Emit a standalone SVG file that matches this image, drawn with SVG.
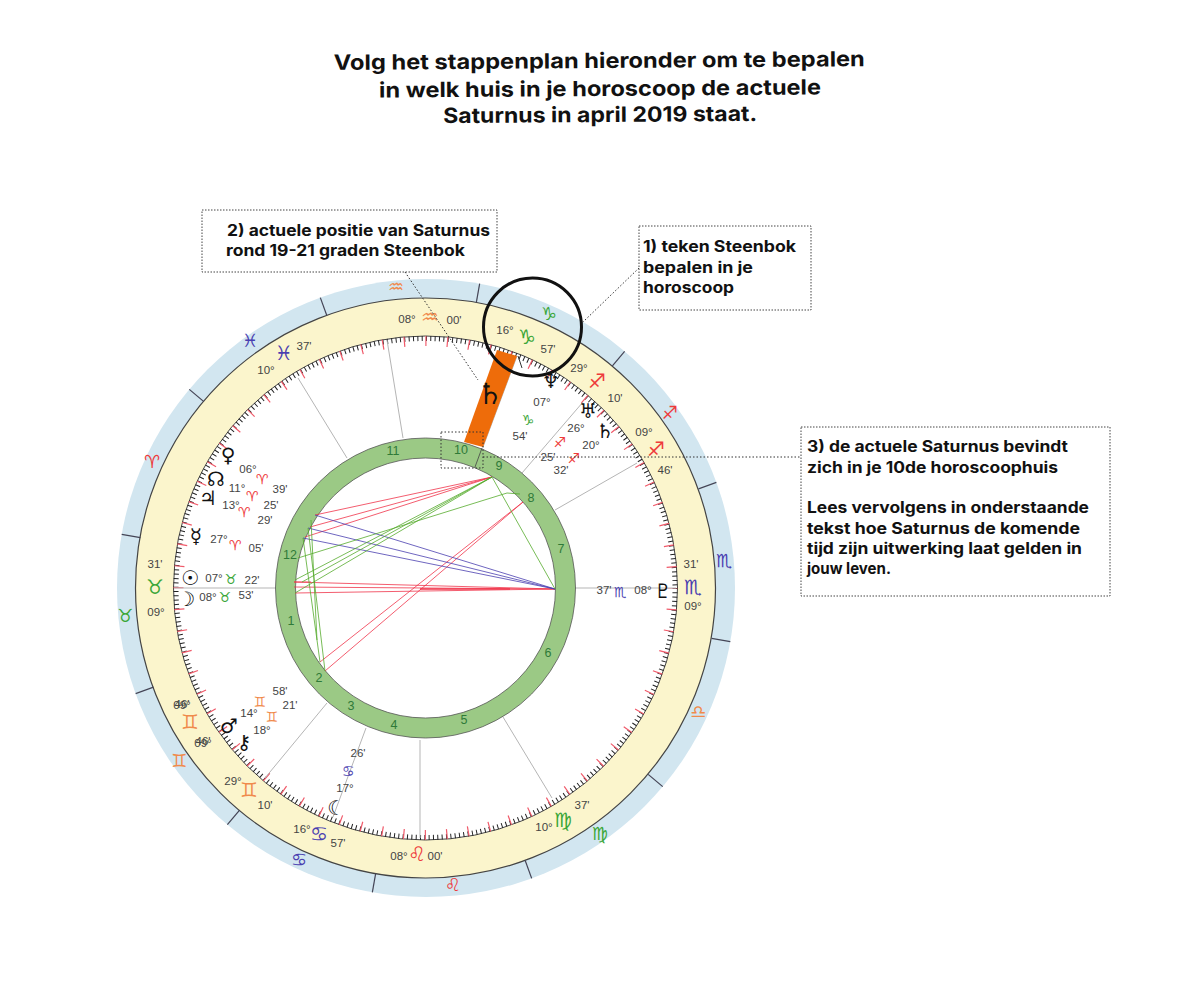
<svg xmlns="http://www.w3.org/2000/svg" xmlns:xlink="http://www.w3.org/1999/xlink" width="1200" height="1000" viewBox="0 0 1200 1000">
<style>
text{font-family:"Liberation Sans","Open Sans",sans-serif}
.h text{font-family:Inter,"Open Sans",sans-serif;font-weight:700;fill:#111}
.t text{font-size:21px}
.b text{font-size:15.5px}
.n,.g,.p,.hn{text-anchor:middle;dominant-baseline:central}
.n{font-size:11.5px;fill:#444}
.g{font-family:"DejaVu Sans",sans-serif;font-size:14px}
.y{font-size:20px}
.o{font-size:18px}
.p{font-family:"DejaVu Sans",sans-serif;font-size:20px;fill:#111}
.hn{font-size:12.5px;fill:#2f7a38}
.fi{fill:#ee3b3b}.ea{fill:#3aa637}.ai{fill:#f08a4b}.wa{fill:#4a3fb0}
.box{fill:#fff;stroke:#444;stroke-width:1;stroke-dasharray:1.5 1.5}
.dot{fill:none;stroke:#333;stroke-width:1;stroke-dasharray:1.5 2}
.cusp{stroke:#b5b5b5;stroke-width:1;fill:none}
.sep{stroke:#445;stroke-width:1.2}
.red{stroke:#f0344a;stroke-width:.8;fill:none}
.blu{stroke:#4a3fb0;stroke-width:.8;fill:none}
.grn{stroke:#55ab2c;stroke-width:.8;fill:none}
</style>
<defs><line id="s" x1="-309" y1="0" x2="-290" y2="0"/></defs>

<g id="title" class="h t" transform="rotate(-0.4 600 90)">
<text x="334" y="68" textLength="531" lengthAdjust="spacingAndGlyphs">Volg het stappenplan hieronder om te bepalen</text>
<text x="379" y="96" textLength="442" lengthAdjust="spacingAndGlyphs">in welk huis in je horoscoop de actuele</text>
<text x="443" y="122" textLength="314" lengthAdjust="spacingAndGlyphs">Saturnus in april 2019 staat.</text>
</g>

<g id="rings">
<circle cx="426" cy="588" r="309" fill="#d2e6f0"/>
<circle cx="425.5" cy="588" r="290" fill="#fbf5cc" stroke="#444" stroke-width="1.2"/>
<circle cx="425.5" cy="588" r="252" fill="#fff" stroke="#444" stroke-width="1"/>
<circle cx="425.5" cy="588" r="249.5" fill="none" stroke="#222" stroke-width="5" stroke-dasharray="1 3.3547"/>
<circle cx="425.5" cy="588" r="247" fill="none" stroke="#f05a6a" stroke-width="10" stroke-dasharray="1.2 20.354" stroke-dashoffset=".6"/>
<g class="sep" transform="translate(426 588)">
<use xlink:href="#s" href="#s" transform="rotate(10)"/><use xlink:href="#s" href="#s" transform="rotate(40)"/><use xlink:href="#s" href="#s" transform="rotate(70)"/><use xlink:href="#s" href="#s" transform="rotate(100)"/><use xlink:href="#s" href="#s" transform="rotate(130)"/><use xlink:href="#s" href="#s" transform="rotate(160)"/><use xlink:href="#s" href="#s" transform="rotate(190)"/><use xlink:href="#s" href="#s" transform="rotate(220)"/><use xlink:href="#s" href="#s" transform="rotate(250)"/><use xlink:href="#s" href="#s" transform="rotate(280)"/><use xlink:href="#s" href="#s" transform="rotate(310)"/><use xlink:href="#s" href="#s" transform="rotate(340)"/>
</g>
</g>

<g id="cusps">
<path class="cusp" d="M174 588H276M575 588H676M298 378L347 458M387 340L403 438M265 778L327 703M333 817L366 728M420 740V838M552 798L503 717M583 402L522 473M637 463L555 510M517 356L483 447"/>
</g>

<g id="house-ring">
<circle cx="425.5" cy="588" r="140" fill="none" stroke="#9bc985" stroke-width="20"/>
<circle cx="425.5" cy="588" r="150" fill="none" stroke="#555" stroke-width=".8"/>
<circle cx="425.5" cy="588" r="130" fill="none" stroke="#555" stroke-width=".8"/>
<path d="M482 448L475 467" fill="none" stroke="#444" stroke-width=".8"/>
</g>

<g id="aspects">
<path class="red" d="M492 477L315 515M492 477L310 527M492 477L305 537M294 582L555 589M294 587L555 589M295 593L555 589M294 582H311M523 502L320 662M523 502L325 671"/>
<path class="red" style="stroke-width:1.6" d="M420 589L510 589"/>
<path class="blu" d="M555 589L315 515M555 589L308 528M555 589L303 538"/>
<path class="grn" d="M492 477L295 580M492 477L302 582M492 477L295 593M298 558L507 493L520 494M492 477L555 589M303 538L320 662M308 528L325 671M311 520L317 640"/>
</g>

<g id="saturnus-band">
<polygon points="497,350 517,356 483,447 464,442" fill="#ee6c0a"/>
<text class="p" x="490" y="394" style="font-size:29px;font-weight:400">♄</text>
<path d="M518 356L522 368" stroke="#333" fill="none"/>
</g>

<g id="outer-signs">
<text class="g o fi" x="152" y="461">♈</text>
<text class="g o ea" x="125" y="615">♉</text>
<text class="g o wa" x="250" y="340">♓</text>
<text class="g o ai" x="396" y="286">♒</text>
<text class="g o ea" x="549" y="313">♑</text>
<text class="g o fi" x="670" y="412">♐</text>
<text class="g o wa" x="724" y="560">♏</text>
<text class="g o ai" x="698" y="711">♎</text>
<text class="g o ea" x="600" y="833">♍</text>
<text class="g o fi" x="453" y="884">♌</text>
<text class="g o wa" x="299" y="859">♋</text>
<text class="g o ai" x="179" y="760">♊</text>
</g>

<g id="cusp-labels">
<text class="n" x="407" y="319">08°</text><text class="g y ai" x="430" y="317">♒</text><text class="n" x="454" y="320">00'</text>
<text class="n" x="505" y="330">16°</text><text class="g y ea" x="527" y="337">♑</text><text class="n" x="548" y="349">57'</text>
<text class="n" x="579" y="368">29°</text><text class="g y fi" x="597" y="381">♐</text><text class="n" x="615" y="398">10'</text>
<text class="n" x="644" y="432">09°</text><text class="g y fi" x="656" y="449">♐</text><text class="n" x="665" y="470">46'</text>
<text class="n" x="691" y="564">31'</text><text class="g y wa" x="693" y="587">♏</text><text class="n" x="693" y="606">09°</text>
<text class="n" x="582" y="805">37'</text><text class="g y ea" x="563" y="820">♍</text><text class="n" x="544" y="827">10°</text>
<text class="n" x="399" y="856">08°</text><text class="g y fi" x="417" y="854">♌</text><text class="n" x="435" y="856">00'</text>
<text class="n" x="302" y="829">16°</text><text class="g y wa" x="319" y="834">♋</text><text class="n" x="338" y="843">57'</text>
<text class="n" x="233" y="781">29°</text><text class="g y ai" x="249" y="790">♊</text><text class="n" x="265" y="805">10'</text>
<text class="n" x="182" y="704">46'</text><text class="n" x="182" y="705">09°</text><text class="g y ai" x="190" y="722">♊</text><text class="n" x="203" y="741">46'</text><text class="n" x="203" y="743">09°</text>
<text class="n" x="155" y="564">31'</text><text class="g y ea" x="155" y="587">♉</text><text class="n" x="156" y="612">09°</text>
<text class="n" x="304" y="346">37'</text><text class="g y wa" x="284" y="353">♓</text><text class="n" x="266" y="370">10°</text>
</g>

<g id="planets">
<g id="venus"><text class="p" x="228" y="455">♀</text><text class="n" x="248" y="469">06°</text><text class="g fi" x="262" y="479">♈</text><text class="n" x="280" y="489">39'</text></g>
<g id="node"><text class="p" x="216" y="479">☊</text><text class="n" x="237" y="488">11°</text><text class="g fi" x="252" y="496">♈</text><text class="n" x="271" y="505">25'</text></g>
<g id="jupiter"><text class="p" x="208" y="498">♃</text><text class="n" x="231" y="505">13°</text><text class="g fi" x="244" y="512">♈</text><text class="n" x="265" y="520">29'</text></g>
<g id="mercury"><text class="p" x="196" y="536">☿</text><text class="n" x="219" y="539">27°</text><text class="g fi" x="235" y="545">♈</text><text class="n" x="256" y="548">05'</text></g>
<g id="sun"><text class="p" x="190" y="578">☉</text><text class="n" x="214" y="578">07°</text><text class="g ea" x="231" y="579">♉</text><text class="n" x="252" y="580">22'</text></g>
<g id="moon"><text class="p" x="186" y="599">☽</text><text class="n" x="208" y="597">08°</text><text class="g ea" x="225" y="597">♉</text><text class="n" x="246" y="595">53'</text></g>
<g id="pluto"><text class="n" x="604" y="590">37'</text><text class="g wa" x="620" y="592">♏</text><text class="n" x="643" y="590">08°</text><text class="p" x="663" y="591">♇</text></g>
<g id="neptune"><text class="p" x="551" y="381">♆</text><text class="n" x="542" y="402">07°</text><text class="g ea" x="528" y="420">♑</text><text class="n" x="520" y="436">54'</text></g>
<g id="uranus"><text class="p" x="588" y="411">♅</text><text class="n" x="576" y="428">26°</text><text class="g fi" x="560" y="442">♐</text><text class="n" x="548" y="457">25'</text></g>
<g id="saturn"><text class="p" x="605" y="431">♄</text><text class="n" x="591" y="445">20°</text><text class="g fi" x="574" y="458">♐</text><text class="n" x="561" y="470">32'</text></g>
<g id="mars"><text class="p" x="229" y="726">♂</text><text class="n" x="249" y="713">14°</text><text class="g ai" x="260" y="702">♊</text><text class="n" x="280" y="691">58'</text></g>
<g id="chiron"><text class="p" x="244" y="742">⚷</text><text class="n" x="262" y="730">18°</text><text class="g ai" x="272" y="717">♊</text><text class="n" x="290" y="705">21'</text></g>
<g id="lilith"><text class="p" x="336" y="808" style="font-weight:700">☾</text><text class="n" x="345" y="788">17°</text><text class="g wa" x="348" y="771">♋</text><text class="n" x="358" y="753">26'</text></g>
</g>

<g id="house-numbers">
<text class="hn" x="393" y="451">11</text><text class="hn" x="461" y="450">10</text><text class="hn" x="499" y="466">9</text><text class="hn" x="531" y="498">8</text><text class="hn" x="561" y="549">7</text><text class="hn" x="548" y="653">6</text><text class="hn" x="464" y="720">5</text><text class="hn" x="394" y="725">4</text><text class="hn" x="351" y="706">3</text><text class="hn" x="319" y="678">2</text><text class="hn" x="291" y="621">1</text><text class="hn" x="290" y="555">12</text>
</g>

<g id="connectors">
<path class="dot" d="M405 272L478 380M639 268L583 322M483 457H801"/>
<rect class="dot" x="441" y="432" width="42" height="36"/>
</g>

<g id="highlight"><circle cx="532.5" cy="327" r="49" fill="none" stroke="#111" stroke-width="3"/></g>

<g id="box-1"><rect class="box" x="639" y="226" width="172" height="84"/>
<g class="h b"><text x="643" y="252" textLength="153" lengthAdjust="spacingAndGlyphs">1) teken Steenbok</text><text x="643" y="273" textLength="110" lengthAdjust="spacingAndGlyphs">bepalen in je</text><text x="643" y="293" textLength="91" lengthAdjust="spacingAndGlyphs">horoscoop</text></g></g>

<g id="box-2"><rect class="box" x="202" y="210" width="295" height="62"/>
<g class="h b"><text x="227" y="236" textLength="263" lengthAdjust="spacingAndGlyphs">2) actuele positie van Saturnus</text><text x="226" y="256" textLength="239" lengthAdjust="spacingAndGlyphs">rond 19-21 graden Steenbok</text></g></g>

<g id="box-3"><rect class="box" x="801" y="427" width="309" height="169"/>
<g class="h b"><text x="807" y="452" textLength="261" lengthAdjust="spacingAndGlyphs">3) de actuele Saturnus bevindt</text><text x="807" y="473" textLength="251" lengthAdjust="spacingAndGlyphs">zich in je 10de horoscoophuis</text><text x="807" y="513" textLength="282" lengthAdjust="spacingAndGlyphs">Lees vervolgens in onderstaande</text><text x="807" y="534" textLength="273" lengthAdjust="spacingAndGlyphs">tekst hoe Saturnus de komende</text><text x="807" y="554" textLength="275" lengthAdjust="spacingAndGlyphs">tijd zijn uitwerking laat gelden in</text><text x="807" y="574" textLength="84" lengthAdjust="spacingAndGlyphs">jouw leven.</text></g></g>
</svg>
